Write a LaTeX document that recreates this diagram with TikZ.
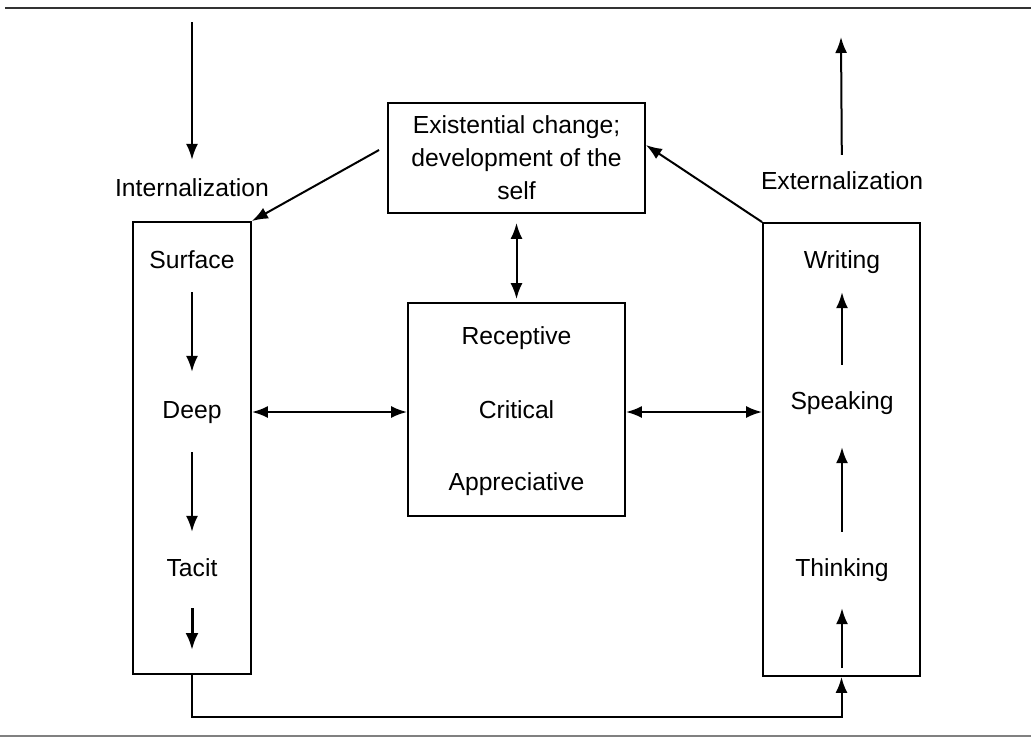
\documentclass[tikz,border=0pt]{standalone}
\usepackage{fontspec}
\setmainfont{Liberation Sans}
\usetikzlibrary{arrows.meta,calc}
\begin{document}
\begin{tikzpicture}[x=1pt,y=-1pt,
  box/.style={draw,line width=1.9pt,inner sep=0pt,minimum width=#1},
  txt/.style={inner sep=0pt,font=\fontsize{24.7}{33}\selectfont},
  lbl/.style={txt,text height=18pt,text depth=5pt},
  arr/.style={line width=2pt,-{Latex[length=16pt,width=12pt]}},
  darr/.style={line width=2pt,{Latex[length=16pt,width=12pt]}-{Latex[length=16pt,width=12pt]}}]
\useasboundingbox (0,0) rectangle (1031,737);
% rules
\draw[line width=2.6pt,color=black!80] (5,8) -- (1031,8);
\draw[line width=1.8pt,color=black!50] (0,736) -- (1031,736);
% boxes
\node[box=257pt,minimum height=110pt] (topbox) at (516.5,158) {};
\node[box=217pt,minimum height=213pt] (midbox) at (516.5,409.5) {};
\node[box=118pt,minimum height=452pt] (leftbox) at (192,448) {};
\node[box=157pt,minimum height=453pt] (rightbox) at (841.5,449.5) {};
% texts
\node[txt,align=center] (topt) at (516.5,158) {Existential change;\\development of the\\self};
\node[lbl] (intl) at (192,190) {Internalization};
\node[lbl] (extl) at (842,183) {Externalization};
\node[lbl] (rec) at (516.5,338) {Receptive};
\node[lbl] (cri) at (516.5,412) {Critical};
\node[lbl] (app) at (516.5,484) {Appreciative};
\node[lbl] (surf) at (192,262) {Surface};
\node[lbl] (deep) at (192,412) {Deep};
\node[lbl] (tacit) at (192,570) {Tacit};
\node[lbl] (writ) at (842,262) {Writing};
\node[lbl] (speak) at (842,403) {Speaking};
\node[lbl] (think) at (842,570) {Thinking};
% free ends
\coordinate (intop) at (192,22);
\coordinate (exttop) at (841,37);
\coordinate (tacitend) at (192,650);
\coordinate (thinkbot) at (842,668);
\coordinate (bottomturn) at (192,717);
% arrows
\draw[arr,shorten >=18.5pt] (intop) -- (intl);
\draw[arr,shorten <=16.5pt] (extl) -- (exttop);
\draw[arr] ($(topbox.west)+(-8,-8)$) -- (leftbox.north east);
\draw[arr] (rightbox.north west) -- ($(topbox.east)+(0,-13)$);
\draw[darr,shorten <=9pt,shorten >=3pt] (topbox.south) -- (midbox.north);
\draw[darr] (leftbox.east |- cri) -- (midbox.west |- cri);
\draw[darr] (midbox.east |- cri) -- (rightbox.west |- cri);
\draw[arr,shorten <=18.5pt,shorten >=28.5pt] (surf) -- (deep);
\draw[arr,shorten <=28.5pt,shorten >=26.5pt] (deep) -- (tacit);
\draw[line width=3pt,-{Latex[length=17pt,width=13pt]},shorten <=26.5pt] (tacit) -- (tacitend);
\draw[arr,shorten <=26.5pt,shorten >=18.5pt] (speak) -- (writ);
\draw[arr,shorten <=26.5pt,shorten >=32.5pt] (think) -- (speak);
\draw[arr,shorten >=26.5pt] (thinkbot) -- (think);
\draw[arr] (leftbox.south) -- (bottomturn) -| (rightbox.south);
\end{tikzpicture}
\end{document}
